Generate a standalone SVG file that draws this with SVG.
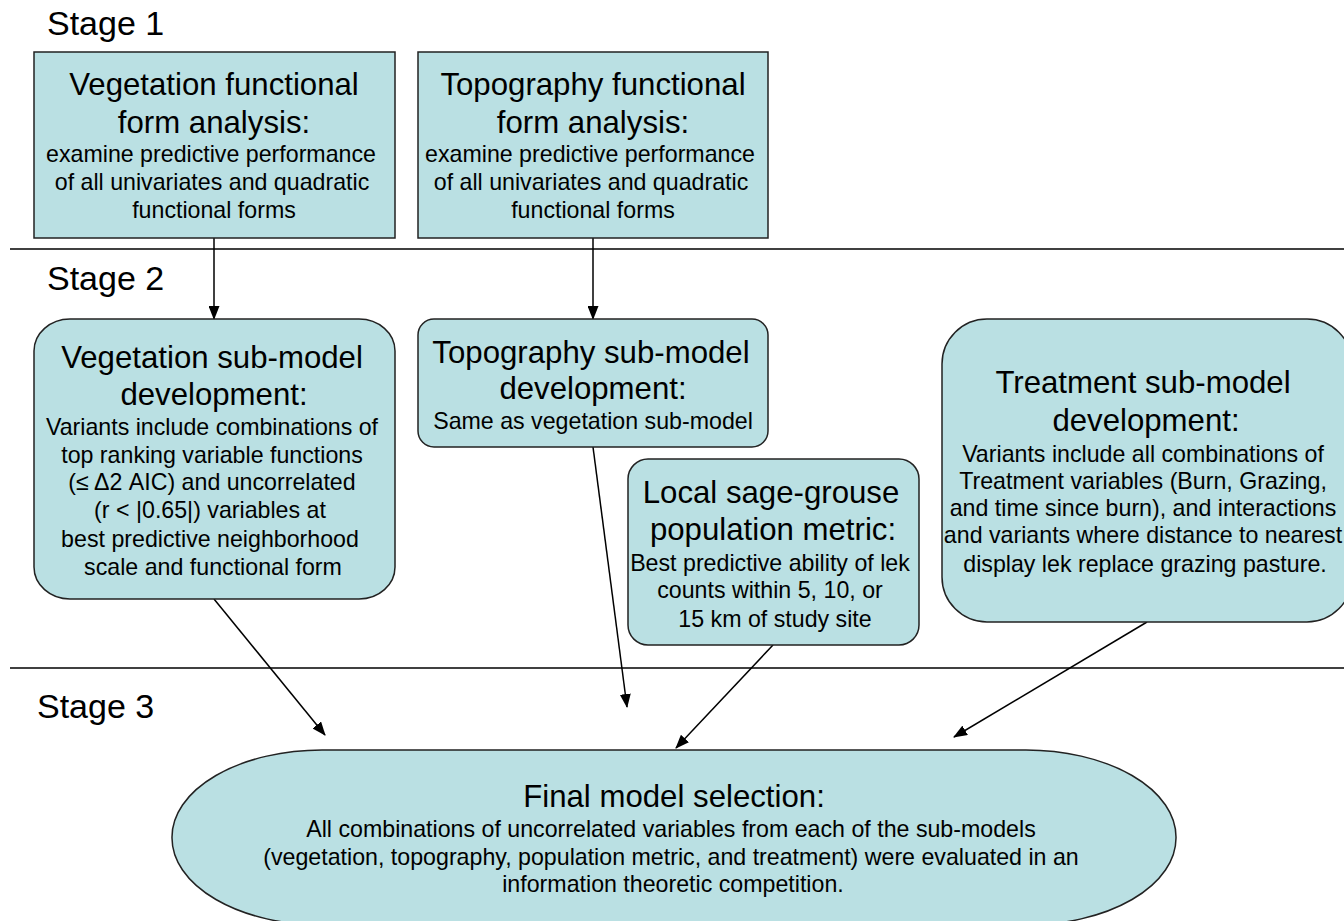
<svg xmlns="http://www.w3.org/2000/svg" width="1344" height="921" viewBox="0 0 1344 921">
<style>
.node{fill:#BAE0E3;stroke:#222;stroke-width:1.5}
.t{font-family:"Liberation Sans",Arial,sans-serif;fill:#000;text-anchor:middle}
.h{font-size:31.2px}
.s{font-size:23.2px}
.stage{font-family:"Liberation Sans",Arial,sans-serif;font-size:34px;fill:#000}
.sep{stroke:#000;stroke-width:1.5}
.c{stroke:#000;stroke-width:1.5;fill:none;marker-end:url(#ah)}
</style>
<defs>
<marker id="ah" markerWidth="14" markerHeight="11" refX="13" refY="5.5" orient="auto" markerUnits="userSpaceOnUse">
<path d="M0,0 L14,5.5 L0,11 Z" fill="#000"/>
</marker>
</defs>
<rect width="1344" height="921" fill="#fff"/>
<g id="stages">
<text class="stage" x="47" y="35">Stage 1</text>
<text class="stage" x="47" y="290">Stage 2</text>
<text class="stage" x="37" y="718">Stage 3</text>
<line class="sep" x1="10" y1="249" x2="1344" y2="249"/>
<line class="sep" x1="10" y1="668" x2="1344" y2="668"/>
</g>
<g id="connectors">
<line class="c" x1="214" y1="238" x2="214" y2="319"/>
<line class="c" x1="593" y1="238" x2="593" y2="319"/>
<line class="c" x1="214" y1="599" x2="325" y2="735"/>
<line class="c" x1="593" y1="447" x2="627" y2="707"/>
<line class="c" x1="773" y1="645" x2="676" y2="748"/>
<line class="c" x1="1147" y1="622" x2="954" y2="737"/>
</g>
<g id="veg-ff">
<rect class="node" x="34" y="52" width="361" height="186"/>
<text class="t h" x="214" y="95">Vegetation functional</text>
<text class="t h" x="214" y="133">form analysis:</text>
<text class="t s" x="211" y="162">examine predictive performance</text>
<text class="t s" x="212" y="190">of all univariates and quadratic</text>
<text class="t s" x="214" y="218">functional forms</text>
</g>
<g id="topo-ff">
<rect class="node" x="418" y="52" width="350" height="186"/>
<text class="t h" x="593" y="95">Topography functional</text>
<text class="t h" x="593" y="133">form analysis:</text>
<text class="t s" x="590" y="162">examine predictive performance</text>
<text class="t s" x="591" y="190">of all univariates and quadratic</text>
<text class="t s" x="593" y="218">functional forms</text>
</g>
<g id="veg-sub">
<rect class="node" x="34" y="319" width="361" height="280" rx="36" ry="32"/>
<text class="t h" x="212" y="368">Vegetation sub-model</text>
<text class="t h" x="214" y="405">development:</text>
<text class="t s" x="212" y="435">Variants include combinations of</text>
<text class="t s" x="212" y="463">top ranking variable functions</text>
<text class="t s" x="212" y="490">(≤ Δ2 AIC) and uncorrelated</text>
<text class="t s" x="210" y="518">(r &lt; |0.65|) variables at</text>
<text class="t s" x="210" y="547">best predictive neighborhood</text>
<text class="t s" x="213" y="575">scale and functional form</text>
</g>
<g id="topo-sub">
<rect class="node" x="418" y="319" width="350" height="128" rx="16"/>
<text class="t h" x="591" y="363">Topography sub-model</text>
<text class="t h" x="593" y="399">development:</text>
<text class="t s" x="593" y="429">Same as vegetation sub-model</text>
</g>
<g id="local-pop">
<rect class="node" x="628" y="459" width="291" height="186" rx="20"/>
<text class="t h" x="771" y="503">Local sage-grouse</text>
<text class="t h" x="773" y="540">population metric:</text>
<text class="t s" x="770" y="571">Best predictive ability of lek</text>
<text class="t s" x="770" y="598">counts within 5, 10, or</text>
<text class="t s" x="775" y="627">15 km of study site</text>
</g>
<g id="treatment-sub">
<rect class="node" x="942" y="319" width="410" height="303" rx="45"/>
<text class="t h" x="1143" y="393">Treatment sub-model</text>
<text class="t h" x="1146" y="431">development:</text>
<text class="t s" x="1143" y="462">Variants include all combinations of</text>
<text class="t s" x="1143" y="489">Treatment variables (Burn, Grazing,</text>
<text class="t s" x="1143" y="516">and time since burn), and interactions</text>
<text class="t s" x="1143" y="543">and variants where distance to nearest</text>
<text class="t s" x="1145" y="572">display lek replace grazing pasture.</text>
</g>
<g id="final">
<rect class="node" x="172" y="750" width="1004" height="175" rx="150" ry="87"/>
<text class="t h" x="674" y="807">Final model selection:</text>
<text class="t s" x="671" y="837">All combinations of uncorrelated variables from each of the sub-models</text>
<text class="t s" x="671" y="865">(vegetation, topography, population metric, and treatment) were evaluated in an</text>
<text class="t s" x="673" y="892">information theoretic competition.</text>
</g>
</svg>
